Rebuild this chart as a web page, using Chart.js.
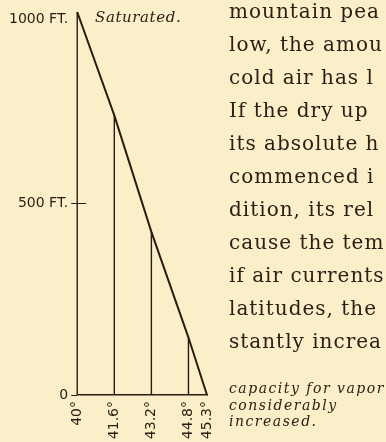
<!DOCTYPE html>
<html>
<head>
<meta charset="utf-8">
<script src="https://cdn.jsdelivr.net/npm/chart.js@4/dist/chart.umd.min.js"></script>
<style>
  html, body { margin:0; padding:0; width:386px; height:442px; overflow:hidden; background:#fbefc9; }
  #wrap { position:absolute; left:0; top:0; width:386px; height:442px; }
  .book { position:absolute; left:229px; top:-5px; font-family:"DejaVu Serif", serif; font-size:20px; letter-spacing:1px; line-height:33px; color:#2a2016; white-space:nowrap; }
  .sat { position:absolute; left:95px; top:8px; font-family:"DejaVu Serif", serif; font-style:italic; font-size:15px; letter-spacing:0.6px; color:#2a2016; white-space:nowrap; }
  .cap { position:absolute; left:229px; top:380px; font-family:"DejaVu Serif", serif; font-style:italic; font-size:14px; letter-spacing:1.5px; line-height:16.5px; color:#2a2016; white-space:nowrap; }
</style>
</head>
<body>
<div id="wrap"><canvas id="c" width="386" height="442"></canvas></div>
<div class="sat">Saturated.</div>
<div class="book">mountain pea<br>low, the amou<br>cold air has l<br>If the dry up<br>its absolute h<br>commenced i<br>dition, its rel<br>cause the tem<br>if air currents<br>latitudes, the<br>stantly increa</div>
<div class="cap">capacity for vapor<br>considerably<br>increased.</div>
<script>
// Temperature categories (their slot on the drawn axis) and labels
const tempLabels = ['40°', '41.6°', '43.2°', '44.8°', '45.3°'];
const tempSlots = [0, 1, 2, 3, 3.5];
// Height (ft) at which the air column reaches each temperature line
const heights = [1000, 730, 426, 150, 0];
// Vertical axis ticks
const heightTicks = [0, 500, 1000];
const heightTickLabels = ['0', '500 FT.', ['', '1000 FT.']];

const ink = '#2a1c10';

const diagonal = tempSlots.map((x, i) => ({ x: x, y: heights[i] }));
const verticals = [];
tempSlots.forEach((x, i) => {
  if (heights[i] > 0) {
    verticals.push({ x: x, y: 0 }, { x: x, y: heights[i] }, { x: x, y: null });
  }
});

const innerTick = {
  id: 'innerTick',
  afterDatasetsDraw(chart) {
    const xs = chart.scales.x, ys = chart.scales.y;
    const c = chart.ctx;
    const y = ys.getPixelForValue(500);
    c.save();
    c.strokeStyle = ink;
    c.lineWidth = 1;
    c.beginPath();
    c.moveTo(xs.getPixelForValue(0), y);
    c.lineTo(xs.getPixelForValue(0) + 9, y);
    c.stroke();
    c.restore();
  }
};

new Chart(document.getElementById('c'), {
  type: 'line',
  data: {
    datasets: [
      { data: diagonal, borderColor: ink, borderWidth: 2, pointRadius: 0, tension: 0, clip: false },
      { data: verticals, borderColor: ink, borderWidth: 1.4, pointRadius: 0, tension: 0, spanGaps: false, clip: false }
    ]
  },
  options: {
    responsive: false,
    animation: false,
    layout: { padding: { left: 6, right: 179, top: 12, bottom: 0 } },
    plugins: { legend: { display: false }, tooltip: { enabled: false } },
    scales: {
      x: {
        type: 'linear', min: 0, max: 3.5,
        afterBuildTicks: s => { s.ticks = tempSlots.map(v => ({ value: v })); },
        afterFit: s => { s.height = 47; },
        ticks: {
          autoSkip: false, minRotation: 90, maxRotation: 90, padding: 6,
          color: ink, font: { family: 'DejaVu Sans', size: 14 },
          callback: (v, i) => tempLabels[i]
        },
        grid: { display: false, drawTicks: false, tickLength: 0 },
        border: { display: true, color: ink, width: 1.4 }
      },
      y: {
        type: 'linear', min: 0, max: 1000,
        afterBuildTicks: s => { s.ticks = heightTicks.map(v => ({ value: v })); },
        afterFit: s => { s.paddingTop = 0; s.paddingBottom = 0; },
        ticks: {
          padding: 3, color: ink, font: { family: 'DejaVu Sans', size: 14, lineHeight: 1 },
          callback: (v, i) => heightTickLabels[i]
        },
        grid: {
          drawOnChartArea: false, tickLength: 6, lineWidth: 1,
          color: ctx => (ctx.tick && ctx.tick.value === 1000) ? 'rgba(0,0,0,0)' : ink
        },
        border: { display: false }
      }
    }
  },
  plugins: [innerTick]
});
</script>
</body>
</html>
